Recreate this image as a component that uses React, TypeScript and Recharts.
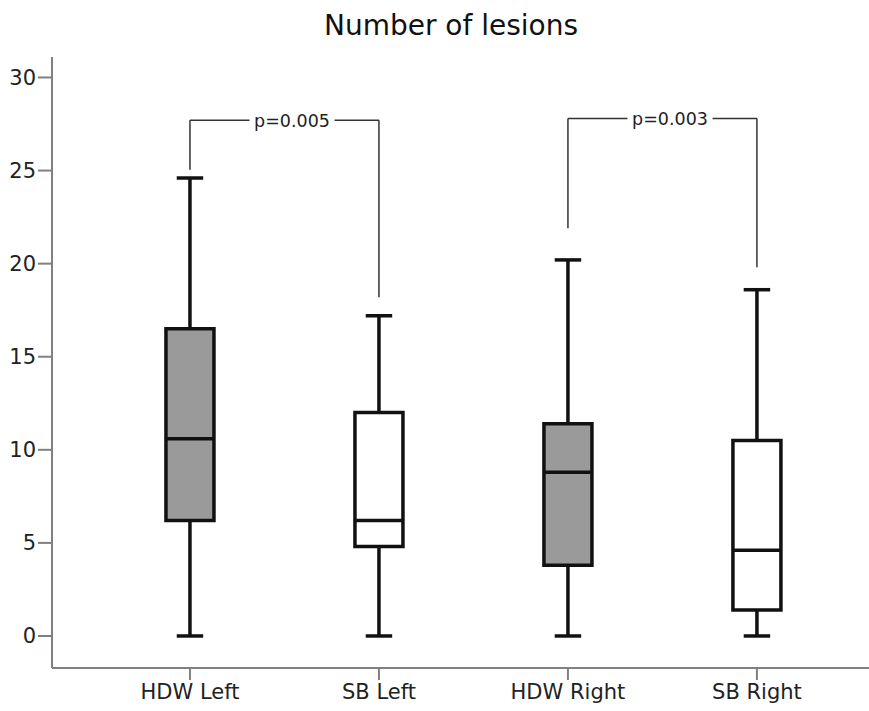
import React from 'react';
import {
  ComposedChart,
  XAxis,
  YAxis,
  Scatter,
  ReferenceArea,
  ReferenceLine,
  ReferenceDot,
} from 'recharts';

// ---- data ----
const categories = ['HDW Left', 'SB Left', 'HDW Right', 'SB Right'];
const minValues = [0, 0, 0, 0];
const q1Values = [6.2, 4.8, 3.8, 1.4];
const medianValues = [10.6, 6.2, 8.8, 4.6];
const q3Values = [16.5, 12.0, 11.4, 10.5];
const maxValues = [24.6, 17.2, 20.2, 18.6];
const boxFills = ['#9a9a9a', '#ffffff', '#9a9a9a', '#ffffff'];

const yTicks = [0, 5, 10, 15, 20, 25, 30];

const bracketFrom = [0, 2];
const bracketTo = [1, 3];
const bracketTop = [27.7, 27.8];
const bracketLeftBottom = [25.05, 21.9];
const bracketRightBottom = [18.2, 19.8];
const pLabels = ['p=0.005', 'p=0.003'];

const rows = categories.map((c, i) => ({ x: i, y: medianValues[i], name: c }));

const BOX_HALF = 0.127;
const CAP_HALF = 0.07;
const LABEL_POS = 0.54;
const GAP_HALF = 0.225;
const SW = 3.5;

const FONT = '"DejaVu Sans", Verdana, sans-serif';

const XTick = (props: any) => {
  const { x, y, payload } = props;
  return (
    <text
      x={x}
      y={y + 17}
      textAnchor="middle"
      fill="#222"
      fontSize={21}
      fontFamily={FONT}
    >
      {categories[payload.value] ?? ''}
    </text>
  );
};

export default function App() {
  const boxEls: React.ReactNode[] = [];
  categories.forEach((_, i) => {
    boxEls.push(
      <ReferenceLine
        key={`wu${i}`}
        segment={[{ x: i, y: q3Values[i] }, { x: i, y: maxValues[i] }]}
        stroke="#111"
        strokeWidth={SW}
      />,
      <ReferenceLine
        key={`wl${i}`}
        segment={[{ x: i, y: minValues[i] }, { x: i, y: q1Values[i] }]}
        stroke="#111"
        strokeWidth={SW}
      />,
      <ReferenceLine
        key={`cu${i}`}
        segment={[{ x: i - CAP_HALF, y: maxValues[i] }, { x: i + CAP_HALF, y: maxValues[i] }]}
        stroke="#111"
        strokeWidth={SW}
      />,
      <ReferenceLine
        key={`cl${i}`}
        segment={[{ x: i - CAP_HALF, y: minValues[i] }, { x: i + CAP_HALF, y: minValues[i] }]}
        stroke="#111"
        strokeWidth={SW}
      />,
      <ReferenceArea
        key={`b${i}`}
        x1={i - BOX_HALF}
        x2={i + BOX_HALF}
        y1={q1Values[i]}
        y2={q3Values[i]}
        fill={boxFills[i]}
        fillOpacity={1}
        stroke="#111"
        strokeWidth={SW}
      />,
      <ReferenceLine
        key={`m${i}`}
        segment={[{ x: i - BOX_HALF, y: medianValues[i] }, { x: i + BOX_HALF, y: medianValues[i] }]}
        stroke="#111"
        strokeWidth={SW}
      />
    );
  });

  const bracketEls: React.ReactNode[] = [];
  bracketFrom.forEach((from, k) => {
    const to = bracketTo[k];
    const top = bracketTop[k];
    const center = from + LABEL_POS * (to - from);
    bracketEls.push(
      <ReferenceLine
        key={`bl${k}`}
        segment={[{ x: from, y: bracketLeftBottom[k] }, { x: from, y: top }]}
        stroke="#333"
        strokeWidth={1.5}
      />,
      <ReferenceLine
        key={`br${k}`}
        segment={[{ x: to, y: bracketRightBottom[k] }, { x: to, y: top }]}
        stroke="#333"
        strokeWidth={1.5}
      />,
      <ReferenceLine
        key={`bt1${k}`}
        segment={[{ x: from, y: top }, { x: center - GAP_HALF, y: top }]}
        stroke="#333"
        strokeWidth={1.5}
      />,
      <ReferenceLine
        key={`bt2${k}`}
        segment={[{ x: center + GAP_HALF, y: top }, { x: to, y: top }]}
        stroke="#333"
        strokeWidth={1.5}
      />,
      <ReferenceDot
        key={`lab${k}`}
        x={center}
        y={top}
        r={0}
        fill="none"
        stroke="none"
        label={{ value: pLabels[k], position: 'center', fontSize: 17.5, fill: '#222', fontFamily: FONT }}
      />
    );
  });

  return (
    <div style={{ position: 'absolute', left: 0, top: 0, width: 869, height: 711, background: '#fff' }}>
      <div
        style={{
          position: 'absolute',
          left: 0,
          top: 8,
          width: 902,
          textAlign: 'center',
          fontFamily: FONT,
          fontSize: 28,
          color: '#111',
          lineHeight: '36px',
        }}
      >
        Number of lesions
      </div>
      <ComposedChart
        width={869}
        height={711}
        data={rows}
        margin={{ top: 57, right: 0, bottom: 0, left: 0 }}
      >
        <XAxis
          type="number"
          dataKey="x"
          domain={[-0.73, 3.593]}
          allowDataOverflow
          ticks={[0, 1, 2, 3]}
          height={43}
          axisLine={{ stroke: '#808080', strokeWidth: 2 }}
          tickLine={{ stroke: '#808080', strokeWidth: 2 }}
          tickSize={12}
          tick={<XTick />}
          interval={0}
        />
        <YAxis
          type="number"
          dataKey="y"
          domain={[-1.72, 31.1]}
          allowDataOverflow
          ticks={yTicks}
          width={52}
          axisLine={{ stroke: '#808080', strokeWidth: 2 }}
          tickLine={{ stroke: '#808080', strokeWidth: 2 }}
          tickSize={14}
          tick={{ fill: '#222', fontSize: 21, fontFamily: FONT }}
          interval={0}
        />
        {boxEls}
        {bracketEls}
        <Scatter dataKey="y" isAnimationActive={false} shape={() => <g />} />
      </ComposedChart>
    </div>
  );
}
